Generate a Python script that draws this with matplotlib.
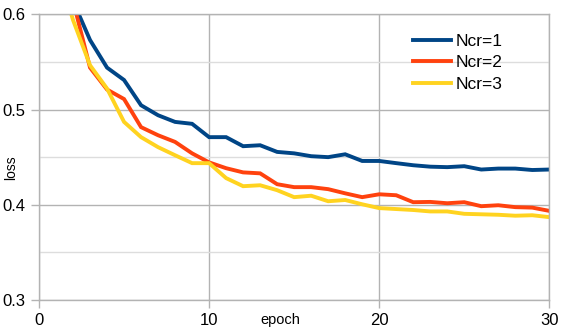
import matplotlib
matplotlib.use("Agg")
import matplotlib.pyplot as plt
from matplotlib.ticker import MultipleLocator

plt.rcParams['font.family'] = ['Liberation Sans', 'DejaVu Sans']

epochs = list(range(1, 31))
ncr1 = [0.75, 0.614, 0.573, 0.544, 0.531, 0.5045, 0.494, 0.487, 0.485, 0.471,
        0.471, 0.4615, 0.4625, 0.4555, 0.454, 0.451, 0.450, 0.453, 0.446, 0.446,
        0.4437, 0.4415, 0.440, 0.4395, 0.4405, 0.437, 0.438, 0.438, 0.4365, 0.437]
ncr2 = [0.73, 0.614, 0.544, 0.521, 0.511, 0.4815, 0.473, 0.466, 0.454, 0.4445,
        0.4384, 0.434, 0.433, 0.4216, 0.4185, 0.4185, 0.4164, 0.412, 0.408, 0.411,
        0.410, 0.4027, 0.403, 0.4016, 0.4027, 0.3985, 0.3995, 0.3975, 0.397, 0.3936]
ncr3 = [0.654, 0.594, 0.5465, 0.522, 0.487, 0.471, 0.4605, 0.452, 0.4437, 0.4437,
        0.428, 0.4195, 0.4205, 0.4153, 0.408, 0.4095, 0.4037, 0.405, 0.4005, 0.3965,
        0.3955, 0.3945, 0.393, 0.393, 0.3905, 0.390, 0.3895, 0.3885, 0.389, 0.387]
series_labels = ['Ncr=1', 'Ncr=2', 'Ncr=3']
colors = ['#004586', '#ff420e', '#ffd320']

W, H = 568, 332
fig = plt.figure(figsize=(W / 100, H / 100), dpi=100)
ax = fig.add_axes([39 / W, 32 / H, (549.3 - 39) / W, (300 - 14.3) / H])

for ys, lab, c in zip([ncr1, ncr2, ncr3], series_labels, colors):
    ax.plot(epochs, ys, color=c, lw=2.8, label=lab, solid_joinstyle='miter')

ax.set_xlim(0, 30)
ax.set_ylim(0.3, 0.6)
ax.xaxis.set_major_locator(MultipleLocator(10))
ax.yaxis.set_major_locator(MultipleLocator(0.1))
ax.yaxis.set_minor_locator(MultipleLocator(0.05))
ax.grid(True, which='major', color='#b3b3b3', lw=1.0)
ax.grid(True, which='minor', axis='y', color='#dddddd', lw=1.0)
ax.set_axisbelow(True)
for s in ax.spines.values():
    s.set_color('#b3b3b3')
    s.set_linewidth(1.0)
ax.tick_params(axis='both', which='major', length=5.5, color='#b3b3b3', width=1.0,
               labelsize=12, pad=4)
ax.tick_params(axis='y', which='minor', length=0)
ax.set_yticks([0.3, 0.4, 0.5, 0.6])
ax.set_yticklabels(['0.3', '0.4', '0.5', '0.6'])
ax.set_xticks([0, 10, 20, 30])
ax.set_xticklabels(['0', '10', '20', '30'])

fig.text(280.8 / W, 8 / H, 'epoch', fontsize=10.5, ha='center', va='baseline')
fig.text(11.5 / W, (H - 168) / H, 'loss', fontsize=10, rotation=90,
         ha='center', va='center')

ax.legend(loc='upper left', bbox_to_anchor=((413 - 39) / 510.3, (300 - 34) / 285.7),
          frameon=False, fontsize=12.5, handlelength=2.2, handletextpad=0.25,
          labelspacing=0.35, borderpad=0, borderaxespad=0)

fig.savefig('out.png', dpi=100)
